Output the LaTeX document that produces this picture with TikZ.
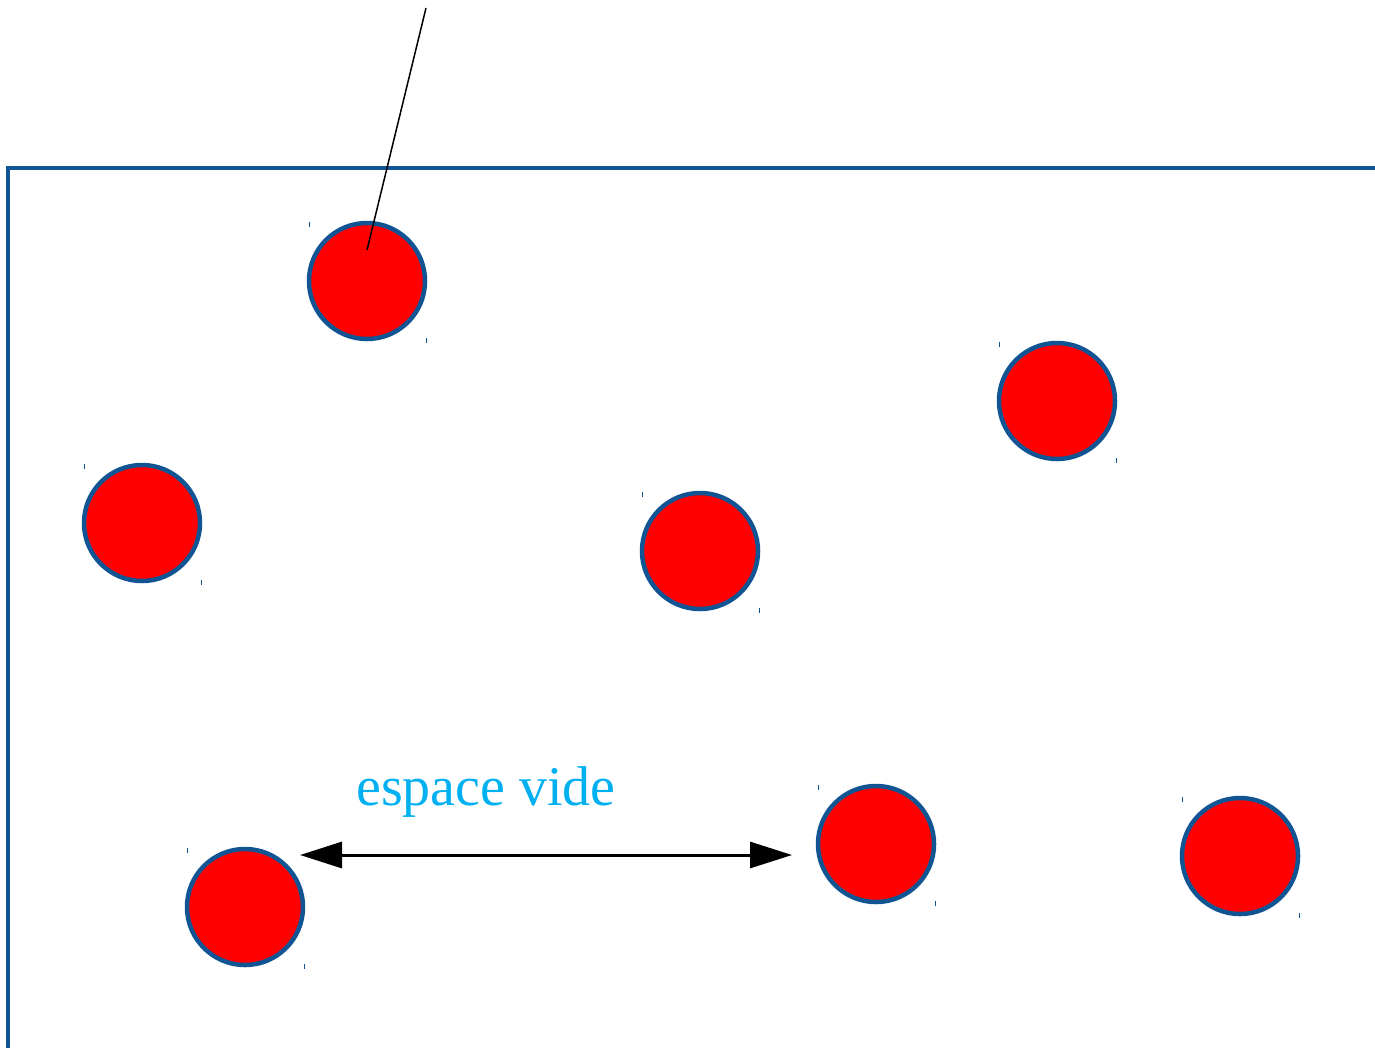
\documentclass[tikz,border=0pt]{standalone}
\usepackage{fontspec}
\setmainfont{Liberation Serif}
\usetikzlibrary{arrows.meta}
\definecolor{edgeblue}{RGB}{17,84,148}
\definecolor{labelcyan}{RGB}{0,176,240}
\begin{document}
\begin{tikzpicture}[x=1pt,y=-1pt,
  particle/.style={circle,draw=edgeblue,fill=red,line width=4.5pt,minimum size=116pt,inner sep=0pt},
  tick/.style={draw=edgeblue,line width=1pt},
  wall/.style={draw=edgeblue,line width=4pt},
  gap/.style={line width=3pt,{Triangle[length=42pt,width=26pt]}-{Triangle[length=42pt,width=26pt]}}]
\useasboundingbox (0,0) rectangle (1375,1047);
% container wall
\coordinate (wb) at (8,1049);
\coordinate (wc) at (8,168);
\coordinate (wr) at (1377,168);
\draw[wall,line join=miter] (wb) -- (wc) -- (wr);
% particles
\foreach \n/\x/\y in {c1/367/281,c2/142/523,c3/700/551,c4/1057/401,c5/245/907,c6/876/844,c7/1240/856}{
  \node[particle] (\n) at (\x,\y) {};
  \draw[tick] ([shift={(-58,-59)}]\n.center) -- ++(0,5);
  \draw[tick] ([shift={(59,57)}]\n.center) -- ++(0,5);
}
% pointer line
\coordinate (ptop) at (426,8);
\draw[line width=1.5pt] (ptop) -- ([shift={(0,-31)}]c1.center);
% empty space arrow
\coordinate (a1) at (300,855);
\coordinate (a2) at (792,855);
\draw[gap] (a1) -- (a2);
\node[text=labelcyan,font=\fontsize{56}{62}\selectfont,anchor=base] (lbl) at (486,805) {espace vide};
\end{tikzpicture}
\end{document}
